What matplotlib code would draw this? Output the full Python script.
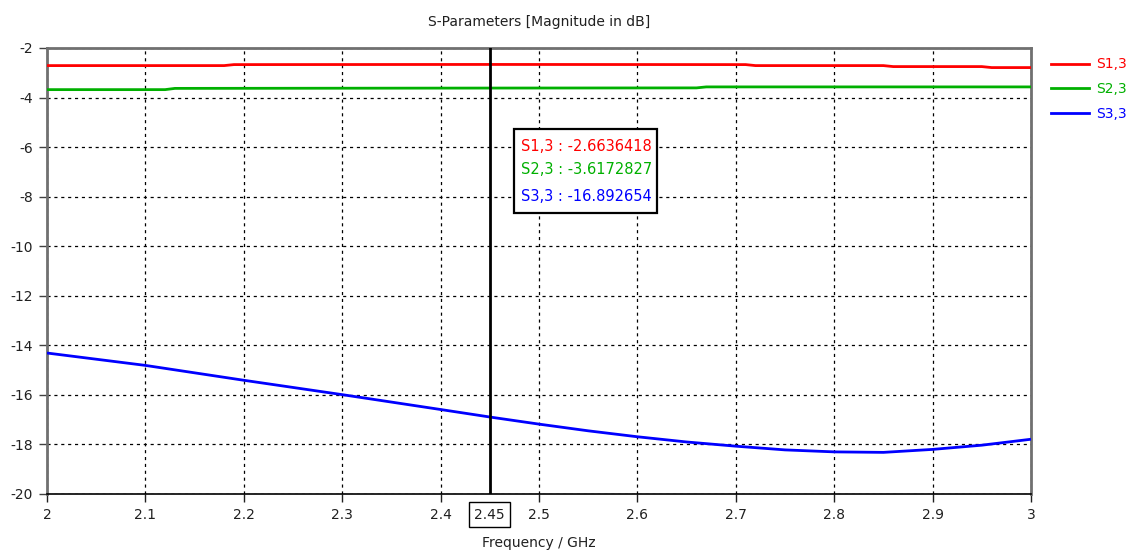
import matplotlib
matplotlib.use("Agg")
import matplotlib.pyplot as plt
from matplotlib.lines import Line2D
from matplotlib.patches import Rectangle

plt.rcParams['font.family'] = ['DejaVu Sans']

# Frequency sweep (GHz) and S-parameter magnitudes (dB)
freq_s13 = [2.0, 2.18, 2.19, 2.45, 2.71, 2.72, 2.85, 2.86, 2.95, 2.96, 3.0]
s13 = [-2.71, -2.71, -2.67, -2.664, -2.67, -2.71, -2.71, -2.75, -2.75, -2.79, -2.79]

freq_s23 = [2.0, 2.12, 2.13, 2.45, 2.66, 2.67, 3.0]
s23 = [-3.68, -3.68, -3.63, -3.617, -3.61, -3.57, -3.57]

freq_s33 = [2.0, 2.05, 2.1, 2.15, 2.2, 2.25, 2.3, 2.35, 2.4, 2.45, 2.5, 2.55,
            2.6, 2.65, 2.7, 2.75, 2.8, 2.85, 2.9, 2.95, 3.0]
s33 = [-14.31, -14.56, -14.81, -15.11, -15.41, -15.70, -15.99, -16.29, -16.59,
       -16.892654, -17.18, -17.45, -17.69, -17.90, -18.07, -18.22, -18.30,
       -18.32, -18.20, -18.03, -17.79]

series_names = ["S1,3", "S2,3", "S3,3"]
series_colors = ["#ff0000", "#00b000", "#0000ff"]

marker_freq = 2.45
marker_values = [-2.6636418, -3.6172827, -16.892654]

x_ticks = [2, 2.1, 2.2, 2.3, 2.4, 2.5, 2.6, 2.7, 2.8, 2.9, 3]
x_tick_labels = ["2", "2.1", "2.2", "2.3", "2.4", "2.5", "2.6", "2.7", "2.8", "2.9", "3"]
y_ticks = [-20, -18, -16, -14, -12, -10, -8, -6, -4, -2]

fig = plt.figure(figsize=(11.32, 5.52), dpi=100)
ax = fig.add_axes([47 / 1132, 1 - 494 / 552, (1031 - 47) / 1132, (494 - 48) / 552])

for xs, ys, c in zip([freq_s13, freq_s23, freq_s33], [s13, s23, s33], series_colors):
    ax.plot(xs, ys, color=c, lw=2, solid_capstyle='butt', zorder=3)

ax.set_xlim(2, 3)
ax.set_ylim(-20, -2)
ax.set_xticks(x_ticks)
ax.set_xticklabels(x_tick_labels)
ax.set_yticks(y_ticks)
ax.set_yticklabels([str(v) for v in y_ticks])
ax.tick_params(axis='both', direction='out', length=6, width=1, labelsize=10,
               colors='#202020', pad=4)
ax.tick_params(axis='y', color='#404040')
ax.grid(True, color='black', lw=0.9, linestyle=(0, (2.5, 3)))
ax.set_axisbelow(True)

for side in ['left', 'right', 'top']:
    ax.spines[side].set_color('#707070')
    ax.spines[side].set_linewidth(2)
ax.spines['bottom'].set_color('black')
ax.spines['bottom'].set_linewidth(1.2)

ax.set_title("S-Parameters [Magnitude in dB]", fontsize=10, color='#202020', pad=16)
ax.set_xlabel("Frequency / GHz", fontsize=10, color='#202020', labelpad=10)

# Marker line and its frequency label
ax.axvline(marker_freq, color='black', lw=2, zorder=4)
ax.text(marker_freq, -20.55, f"{marker_freq:g}", transform=ax.transData,
        ha='center', va='top', fontsize=10, color='#202020',
        bbox=dict(boxstyle='square,pad=0.38', fc='white', ec='black', lw=1),
        zorder=5)

# Marker readout box
ax.add_patch(Rectangle((0.4746, 0.630), 0.1455, 0.188, transform=ax.transAxes,
                       fc='white', ec='black', lw=1.6, zorder=5))
row_y = [0.780, 0.7265, 0.668]
for name, val, c, yy in zip(series_names, marker_values, series_colors, row_y):
    ax.text(0.4817, yy, f"{name} : {val:.8g}", transform=ax.transAxes,
            ha='left', va='center', fontsize=10.5, color=c, zorder=6)

# Legend to the right of the plot
handles = [Line2D([0], [0], color=c, lw=2) for c in series_colors]
fig.legend(handles, series_names, loc='upper left', bbox_to_anchor=(1038 / 1132, 1 - 45 / 552),
           frameon=False, handlelength=2.8, fontsize=10, labelspacing=0.78,
           labelcolor=series_colors, handletextpad=0.45)

fig.savefig("out.png", dpi=100, facecolor='white')
